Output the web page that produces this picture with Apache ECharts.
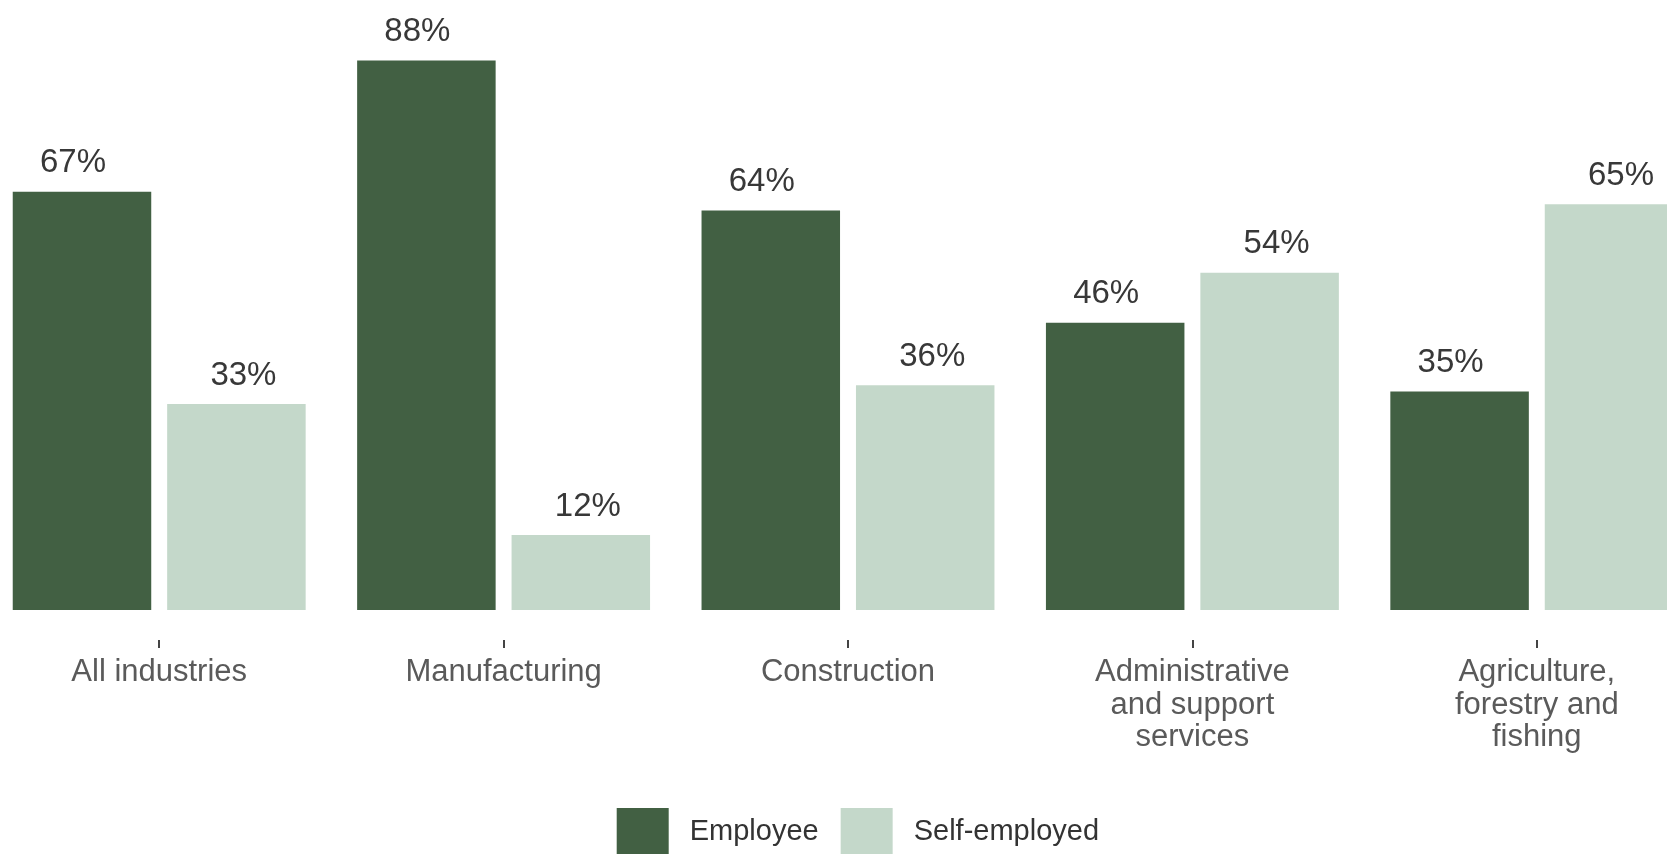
<!DOCTYPE html>
<html>
<head>
<meta charset="utf-8">
<title>Employee vs self-employed by industry</title>
<script src="https://cdn.jsdelivr.net/npm/echarts@6/dist/echarts.min.js"></script>
<style>
  html, body { margin: 0; padding: 0; background: #ffffff; overflow: hidden; width: 1667px; height: 854px; position: relative; }
  /* plot area runs slightly past both page edges */
  #chart { position: absolute; left: -12.7px; top: 0; width: 1722px; height: 854px; }
</style>
</head>
<body>
<div id="chart"></div>
<script>
// Industry groups shown along the horizontal axis
const industries = [
  'All industries',
  'Manufacturing',
  'Construction',
  'Administrative\nand support\nservices',
  'Agriculture,\nforestry and\nfishing'
];

// Share of workers (%) in each group
const employee = [67, 88, 64, 46, 35];
const selfEmployed = [33, 12, 36, 54, 65];

const seriesNames = ['Employee', 'Self-employed'];

const FONT = 'Arial, "Liberation Sans", sans-serif';
const DARK = '#426043';
const LIGHT = '#c4d8ca';

const chart = echarts.init(document.getElementById('chart'), null, { renderer: 'canvas' });

function valueLabel(shift) {
  return {
    show: true,
    position: 'top',
    distance: 12,
    offset: [shift, 0],
    formatter: p => p.value + '%',
    fontFamily: FONT,
    fontSize: 33,
    lineHeight: 33,
    color: '#383838'
  };
}

chart.setOption({
  backgroundColor: '#ffffff',
  animation: false,
  grid: {
    left: 0,
    right: 0,
    top: 48.1,
    bottom: 214,
    containLabel: false
  },
  legend: {
    data: seriesNames,
    left: 629.7,
    top: 808,
    padding: 0,
    icon: 'rect',
    itemWidth: 52,
    itemHeight: 48,
    itemGap: 22,
    textStyle: {
      fontFamily: FONT,
      fontSize: 29,
      color: '#333333',
      padding: [0, 0, 0, 16]
    }
  },
  xAxis: {
    type: 'category',
    data: industries,
    // axis sits a little below the bar baseline, where the ticks start
    axisLine: { show: false, onZero: false },
    axisTick: {
      show: true,
      alignWithLabel: true,
      length: 8,
      lineStyle: { color: '#444444', width: 2 }
    },
    axisLabel: {
      interval: 0,
      margin: 16.5,
      fontFamily: FONT,
      fontSize: 31,
      lineHeight: 32.5,
      color: '#5a5a5a',
      align: 'center'
    },
    splitLine: { show: false }
  },
  yAxis: {
    type: 'value',
    min: -4.8,
    max: 90,
    show: false,
    splitLine: { show: false }
  },
  series: [
    {
      name: seriesNames[0],
      type: 'bar',
      data: employee,
      barWidth: 138.5,
      barGap: '11.5%',
      itemStyle: { color: DARK },
      label: valueLabel(-9)
    },
    {
      name: seriesNames[1],
      type: 'bar',
      data: selfEmployed,
      barWidth: 138.5,
      barGap: '11.5%',
      itemStyle: { color: LIGHT },
      label: valueLabel(7)
    }
  ]
});
</script>
</body>
</html>
